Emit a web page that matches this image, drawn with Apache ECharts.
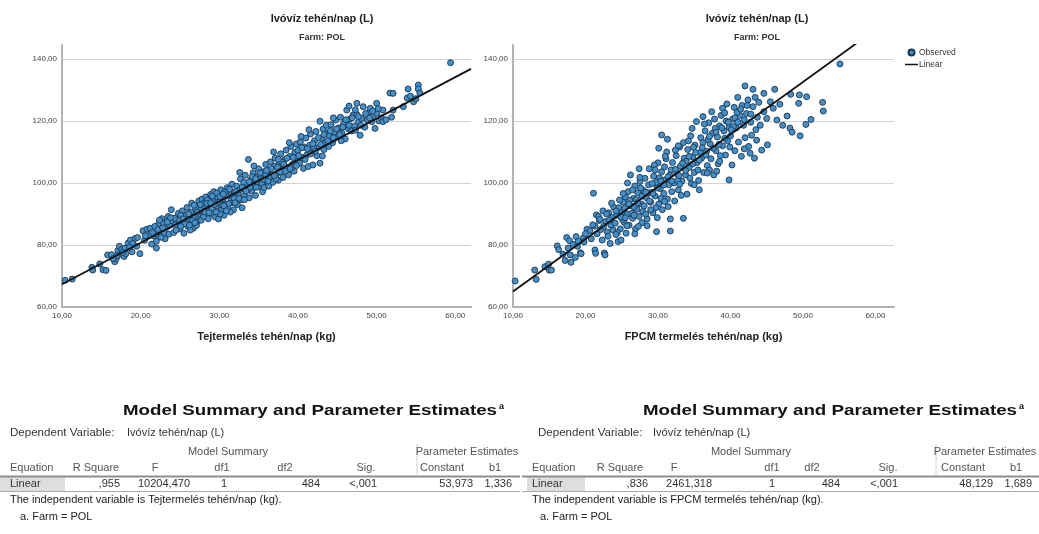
<!DOCTYPE html>
<html><head><meta charset="utf-8">
<script src="https://cdn.jsdelivr.net/npm/echarts@6/dist/echarts.min.js"></script>
<style>html,body{margin:0;padding:0;background:#fff}#c{width:1039px;height:534px}</style>
</head><body><div id="c"></div>
<script>
// ---------- DATA ----------
const chartTitle = 'Ivóvíz tehén/nap (L)';
const chartSubtitle = 'Farm: POL';
const xNameLeft = 'Tejtermelés tehén/nap (kg)';
const xNameRight = 'FPCM termelés tehén/nap (kg)';
const xTicks = [10, 20, 30, 40, 50, 60];
const yTicks = [60, 80, 100, 120, 140];
const legendNames = ['Observed', 'Linear'];

// Tejtermelés (kg) vs Ivóvíz (L)
const milkObserved = [
[10.4,68.6],[11.3,69.0],[13.8,72.8],[13.9,71.9],[14.8,73.9],[15.2,72.0],[15.6,71.8],[15.8,76.8],[16.3,76.9],
[16.7,74.6],[16.9,75.6],[17.1,78.2],[17.3,79.6],[17.4,77.0],[17.6,78.6],[17.9,76.3],[18.1,77.2],[18.4,80.6],[18.7,81.6],[18.9,77.8],[19.3,82.1],[19.6,82.4],[19.9,77.2],[18.0,79.0],[17.0,76.5],[19.0,80.5],
[20.3,84.6],[20.8,85.1],[21.2,85.4],[21.4,80.3],[21.7,82.9],[22.0,79.0],[22.1,83.5],[22.3,86.8],[22.5,84.2],[22.7,88.5],[22.9,87.0],[23.1,82.0],[23.3,85.7],[23.5,89.2],[23.7,86.3],[23.9,91.4],[20.5,81.5],[21.0,83.0],[22.0,81.2],[22.6,82.5],[23.0,84.0],[23.6,83.5],[24.0,87.8],[21.8,86.0],[22.4,88.0],
[24.2,84.0],[24.4,86.5],[24.6,88.8],[24.8,90.2],[25.0,85.2],[25.2,87.6],[25.3,91.0],[25.5,83.8],[25.7,89.5],[25.9,92.1],[26.0,86.0],[26.2,88.2],[26.4,90.6],[26.5,93.5],[26.7,85.4],[26.9,89.0],[27.0,91.8],[27.2,87.5],[27.4,94.2],[27.5,90.1],[27.7,88.0],[27.9,92.6],[24.5,84.8],[25.1,89.6],[25.8,87.2],[26.3,84.8],[26.8,92.8],[27.3,89.9],[27.8,94.8],[24.9,88.0],[25.6,86.8],[26.6,87.9],[27.1,86.3],[27.6,91.2],
[28.0,89.2],[28.1,93.6],[28.3,95.5],[28.4,91.0],[28.6,88.5],[28.8,92.8],[28.9,96.3],[29.0,90.2],[29.2,94.0],[29.3,97.2],[29.5,89.0],[29.6,92.5],[29.8,95.4],[29.9,88.4],[30.0,93.8],[30.2,97.8],[30.3,91.6],[30.5,95.0],[30.6,89.6],[30.8,93.2],[31.0,98.5],[31.1,92.0],[31.3,96.0],[31.5,94.4],[31.6,99.6],[31.8,91.3],[31.9,97.0],[28.5,94.5],[29.1,91.8],[29.7,96.8],[30.4,92.8],[30.9,95.9],[31.4,90.6],[31.7,93.6],[28.2,90.6],[29.4,93.1],[30.1,90.0],[30.7,97.0],[31.2,93.3],
[32.0,95.2],[32.2,99.0],[32.3,93.0],[32.5,97.6],[32.7,101.3],[32.8,94.6],[33.0,98.2],[33.2,96.0],[33.3,102.5],[33.5,99.6],[33.7,107.6],[33.8,95.2],[34.0,101.0],[34.1,97.4],[34.3,103.3],[34.5,99.8],[34.6,96.0],[34.8,102.0],[35.0,104.6],[35.1,98.8],[35.3,101.6],[35.5,97.2],[35.6,103.6],[35.8,100.5],[35.9,106.0],[32.4,96.2],[33.1,100.2],[33.6,97.8],[34.2,99.2],[34.9,100.4],[35.4,99.9],[32.9,92.0],[33.9,98.6],[34.4,105.5],[35.7,98.5],[32.6,103.4],
[36.0,101.4],[36.2,104.2],[36.3,99.0],[36.5,106.8],[36.7,102.6],[36.8,100.2],[37.0,105.4],[37.1,108.0],[37.3,103.0],[37.5,100.9],[37.6,106.2],[37.8,109.4],[38.0,104.4],[38.1,101.8],[38.3,107.5],[38.5,110.6],[38.6,105.0],[38.8,102.6],[39.0,108.6],[39.1,111.8],[39.3,106.0],[39.5,103.8],[39.6,109.9],[39.8,112.6],[39.9,107.0],[36.4,102.0],[37.2,101.3],[37.9,106.8],[38.4,103.8],[39.2,105.0],[39.7,108.2],[36.9,110.0],[38.9,113.0],
[40.0,110.5],[40.2,106.4],[40.3,113.2],[40.5,108.2],[40.7,104.7],[40.8,111.6],[41.0,114.5],[41.1,109.0],[41.3,105.3],[41.5,112.2],[41.6,115.8],[41.8,110.4],[41.9,105.8],[42.1,113.6],[42.3,116.6],[42.4,108.8],[42.6,111.5],[42.8,119.9],[42.8,106.4],[43.0,114.4],[43.2,117.4],[43.3,110.8],[43.5,113.0],[43.7,116.0],[43.9,111.8],[40.4,115.0],[41.4,117.2],[42.0,111.3],[43.1,108.7],[43.6,118.6],
[44.0,115.2],[44.2,118.8],[44.4,113.0],[44.6,116.4],[44.8,120.3],[45.0,114.8],[45.2,117.8],[45.4,121.2],[45.6,116.0],[45.8,119.2],[46.0,114.2],[46.2,123.5],[46.4,117.5],[46.6,120.6],[46.8,116.8],[47.0,121.9],[47.2,118.4],[47.5,125.7],[47.5,122.0],[47.7,119.6],[47.9,115.4],[44.5,121.0],[45.5,113.6],[46.5,124.8],[47.3,117.0],
[48.1,120.8],[48.3,124.6],[48.5,118.0],[48.8,120.3],[49.0,122.8],[49.2,124.1],[49.4,119.8],[49.6,121.8],[49.8,117.6],[50.0,125.7],[50.0,122.5],[50.3,120.0],[50.6,121.0],[50.8,123.5],[50.8,119.8],[51.2,120.4],[51.7,129.0],[51.9,121.2],[52.1,128.9],[52.1,123.5],
[53.4,124.6],[53.9,127.4],[54.0,130.3],[54.3,128.0],[54.7,126.2],[55.0,127.2],[55.3,131.6],[55.3,130.3],[55.5,129.0],[59.4,138.8],
[24.3,88.6],[25.4,88.4],[26.1,90.0],[26.9,87.2],[27.6,93.0],[28.4,93.4],[28.7,90.4],[29.1,95.8],[29.6,90.6],[30.1,95.6],[30.6,92.6],[30.9,91.0],[31.3,98.0],[31.9,95.0],[32.1,97.2],[32.5,95.0],[32.9,98.6],[33.4,97.4],[33.8,100.4],[34.2,102.0],[34.7,98.6],[35.2,103.2],[35.6,101.2],[35.9,102.6],[36.2,100.6],[36.6,104.6],[37.0,102.4],[37.4,105.0],[37.7,103.6],[38.2,106.0],[38.6,108.0],[39.0,104.6],[39.4,108.2],[39.8,105.6],[40.1,108.8],[40.5,111.4],[40.9,107.6],[41.2,111.0],[41.6,109.4],[41.9,112.6],[42.2,110.2],[42.6,114.6],[42.9,112.4],[43.3,115.6],[43.8,113.6],[44.1,116.8],[44.5,114.6],[44.9,117.4],[45.3,115.6],[45.7,118.0],[46.1,120.4],[46.5,118.6],[46.9,121.0],[47.3,123.6],[47.7,121.4],[48.0,118.6],[48.6,122.4],[49.1,121.0],[49.5,123.2],[50.2,124.0],[20.6,83.0],[21.5,84.0],[22.2,85.0],[22.8,85.5],[23.4,87.4],[23.8,88.8],[19.5,79.6],[18.6,79.2],[16.5,75.6],[17.7,77.6],[25.1,86.0],[26.2,86.4],[27.2,90.6],[28.9,93.6],[30.5,96.4],[32.0,93.6],[33.2,94.6],[34.6,101.4],[36.0,104.0],[37.5,107.6]
];

// FPCM termelés (kg) vs Ivóvíz (L)
const fpcmObserved = [
[10.3,68.4],[13.0,71.9],[13.2,68.9],[14.4,73.0],[14.9,73.8],[15.0,71.9],[15.3,71.9],[16.1,79.7],[16.3,78.5],[17.2,75.0],[17.4,82.4],[17.6,79.0],[17.8,81.4],[17.9,76.8],[18.0,74.4],[18.3,80.2],[18.7,82.7],[18.6,76.0],[19.3,77.5],[19.4,77.2],[19.7,82.2],[19.8,81.0],[16.9,77.0],[18.9,79.6],
[20.2,85.1],[20.6,84.6],[21.1,96.7],[21.3,86.1],[21.3,78.4],[21.4,77.3],[21.5,89.7],[21.6,83.6],[21.9,87.9],[22.1,85.0],[22.3,81.6],[22.6,77.4],[22.7,76.8],[22.8,87.6],[23.0,84.2],[23.2,90.4],[23.4,80.5],[23.5,86.4],[23.7,88.9],[23.9,92.2],[21.8,89.2],[22.4,91.0],[23.1,82.8],[23.8,84.8],[20.8,82.0],[22.0,88.3],[22.9,90.0],[23.6,93.5],
[24.1,87.0],[24.3,89.6],[24.5,81.1],[24.6,92.0],[24.8,85.2],[24.9,81.6],[25.0,90.6],[25.2,93.8],[25.3,87.4],[25.5,95.5],[25.6,83.8],[25.8,90.0],[25.9,97.2],[26.0,86.4],[26.2,102.6],[26.3,92.6],[26.5,88.6],[26.6,95.0],[26.8,99.0],[26.9,85.2],[27.1,91.5],[27.2,96.8],[27.4,89.2],[27.5,100.5],[27.7,93.2],[27.8,87.2],[28.0,97.6],[24.4,84.0],[24.7,94.5],[25.1,88.2],[25.4,91.8],[25.7,86.2],[26.1,94.4],[26.4,90.2],[26.7,92.3],[27.0,94.6],[27.3,86.0],[27.6,98.4],[27.9,90.8],[25.8,100.0],[26.5,97.8],
[28.1,92.6],[28.2,101.5],[28.4,95.2],[28.5,88.4],[28.7,99.4],[28.8,104.6],[29.0,93.8],[29.1,97.0],[29.3,90.4],[29.4,102.2],[29.6,95.8],[29.8,84.3],[29.8,100.2],[30.0,106.5],[30.1,93.2],[30.3,98.2],[30.5,115.5],[30.5,103.6],[30.6,91.4],[30.8,96.6],[31.0,101.0],[31.1,107.8],[31.3,114.1],[31.3,94.8],[31.5,99.4],[31.7,88.4],[31.7,84.5],[31.8,104.2],[31.9,97.2],[28.6,96.8],[29.2,99.8],[29.7,92.0],[30.2,101.6],[30.9,105.2],[31.4,92.4],[28.3,90.0],[29.5,105.8],[30.4,95.0],[31.2,110.0],[29.9,88.8],[31.6,102.5],
[32.0,106.6],[32.2,100.0],[32.3,94.2],[32.5,108.8],[32.6,103.0],[32.8,97.8],[33.0,111.6],[33.1,105.4],[33.3,100.6],[33.5,88.6],[33.5,113.0],[33.6,108.0],[33.8,102.6],[34.0,96.4],[34.1,110.8],[34.3,105.0],[34.5,115.2],[34.6,99.8],[34.8,108.4],[35.0,103.4],[35.1,112.2],[35.3,119.8],[35.4,106.6],[35.6,100.8],[35.8,109.8],[35.9,114.6],[32.4,110.6],[33.2,96.0],[33.9,107.0],[34.4,101.6],[34.9,111.5],[35.5,104.2],[32.7,100.8],[34.2,113.6],[35.7,97.8],
[36.0,108.0],[36.2,113.0],[36.3,103.4],[36.5,116.8],[36.7,110.2],[36.8,105.6],[37.0,119.4],[37.2,112.6],[37.3,107.8],[37.5,116.0],[37.7,102.6],[37.8,120.6],[38.0,110.4],[38.2,114.8],[38.3,106.2],[38.5,118.4],[38.7,121.8],[38.9,124.1],[38.9,112.0],[39.1,116.8],[39.3,109.0],[39.4,120.0],[39.6,113.6],[39.8,101.0],[39.8,118.0],[36.4,119.0],[37.1,104.2],[37.9,117.6],[38.6,108.8],[39.2,122.6],[39.9,111.6],[36.9,114.0],[38.1,103.8],[39.5,125.5],
[40.0,115.2],[40.2,105.8],[40.3,120.6],[40.5,124.4],[40.6,110.4],[40.8,117.8],[41.0,127.6],[41.1,113.2],[41.3,121.8],[41.5,108.6],[41.6,125.0],[41.8,118.6],[42.0,131.3],[42.0,114.6],[42.2,122.4],[42.4,126.8],[42.5,111.8],[42.7,109.6],[42.8,119.6],[43.1,130.2],[43.1,124.6],[43.3,108.0],[43.5,117.2],[43.7,121.2],[43.9,126.0],[40.9,122.8],[41.9,111.0],[42.9,115.4],[43.6,113.8],[40.4,118.2],
[44.1,118.6],[44.3,110.6],[44.6,128.9],[44.6,123.0],[45.0,120.8],[45.1,112.3],[45.5,126.2],[45.9,124.1],[46.1,130.2],[46.4,120.3],[46.8,125.4],[47.2,118.6],[47.8,121.6],[48.2,117.7],[48.3,128.6],[48.5,116.4],[49.4,125.7],[49.5,128.4],[49.6,115.2],[50.4,118.9],[50.5,127.8],[51.1,120.5],[52.7,126.0],[52.8,123.2],[55.1,138.4],
[24.2,91.0],[24.9,89.0],[25.5,88.8],[26.0,93.2],[26.7,89.6],[27.2,93.6],[27.8,95.8],[28.3,97.0],[28.8,94.2],[29.3,96.6],[29.9,98.4],[30.4,100.6],[30.8,99.4],[31.4,102.0],[31.9,100.6],[32.4,104.4],[32.9,102.4],[33.4,106.4],[33.8,104.0],[34.3,108.6],[34.8,106.2],[35.2,109.8],[35.7,107.4],[36.1,111.4],[36.6,109.0],[37.1,115.0],[37.6,111.2],[38.0,116.4],[38.4,112.4],[38.8,117.8],[39.2,114.4],[39.7,119.6],[40.1,117.2],[40.6,121.0],[41.0,119.6],[41.4,123.8],[41.9,120.4],[42.3,125.0],[42.8,122.2],[43.4,127.6],[22.5,86.0],[23.3,88.0],[21.0,86.5],[20.0,83.6],[19.0,81.2],[25.2,96.6],[27.5,101.8],[29.6,104.2],[31.0,108.6],[32.8,112.0],[34.7,117.6],[36.2,121.4],[37.4,123.0],[29.0,91.4],[30.9,94.0],[33.0,99.6],[35.0,99.4],[36.8,103.2],[38.5,107.0],[26.8,83.6],[28.5,86.2],[24.2,83.4],[27.4,104.6],[30.1,111.2]
];

// Table contents
const tableTitle = 'Model Summary and Parameter Estimates';
const dependentLabel = 'Dependent Variable:';
const dependentName = 'Ivóvíz tehén/nap (L)';
const groupHeaders = ['Model Summary', 'Parameter Estimates'];
const columnHeaders = ['Equation', 'R Square', 'F', 'df1', 'df2', 'Sig.', 'Constant', 'b1'];
const milkRow = ['Linear', ',955', '10204,470', '1', '484', '<,001', '53,973', '1,336'];
const fpcmRow = ['Linear', ',836', '2461,318', '1', '484', '<,001', '48,129', '1,689'];
const milkNote = 'The independent variable is Tejtermelés tehén/nap (kg).';
const fpcmNote = 'The independent variable is FPCM termelés tehén/nap (kg).';
const farmNote = 'a. Farm = POL';

// ---------- BUILD ----------
const FONT = '"Liberation Sans", Arial, Helvetica, sans-serif';
const num = s => parseFloat(s.replace(',', '.'));
const fmt = v => v.toFixed(2).replace('.', ',');

const X_MAX = [62.0, 62.55];
const Y_MAX = 144.5;

function fitLine(row, xmax) {
  const c = num(row[6]), b = num(row[7]);
  return [[xTicks[0], c + b * xTicks[0]], [xmax, c + b * xmax]];
}

function xAxis(i, name) {
  return {
    type: 'value', gridIndex: i, min: xTicks[0], max: X_MAX[i], interval: 10,
    name: name, nameLocation: 'middle', nameGap: 24,
    nameTextStyle: { fontFamily: FONT, fontSize: 11, fontWeight: 'bold', color: '#222' },
    axisLine: { show: true, onZero: false, lineStyle: { color: '#b3b3b3', width: 2 } },
    axisTick: { show: false },
    splitLine: { show: false },
    axisLabel: { fontFamily: FONT, fontSize: 8, color: '#444', margin: 5, showMaxLabel: false,
      formatter: v => (xTicks.indexOf(v) >= 0 ? fmt(v) : '') }
  };
}
function yAxis(i) {
  return {
    type: 'value', gridIndex: i, min: yTicks[0], max: Y_MAX, interval: 20,
    axisLine: { show: true, onZero: false, lineStyle: { color: '#b3b3b3', width: 2 } },
    axisTick: { show: false },
    splitLine: { show: true, showMinLine: false, showMaxLine: false, lineStyle: { color: '#d2d2d2', width: 1 } },
    axisLabel: { fontFamily: FONT, fontSize: 8, color: '#444', margin: 5, showMaxLabel: false,
      formatter: v => (yTicks.indexOf(v) >= 0 ? fmt(v) : '') }
  };
}
const scatterStyle = { color: '#4590c8', borderColor: '#1b3650', borderWidth: 0.9, opacity: 1 };

function titles(cx) {
  return [
    { text: chartTitle, left: cx, top: 13, textAlign: 'center', padding: 0,
      textStyle: { fontFamily: FONT, fontSize: 11, fontWeight: 'bold', color: '#222' } },
    { text: chartSubtitle, left: cx, top: 33, textAlign: 'center', padding: 0,
      textStyle: { fontFamily: FONT, fontSize: 9, fontWeight: 'bold', color: '#333' } }
  ];
}

// ---------- TABLE (graphic) ----------
const Y = { title: 411, dep: 433, grp: 452, hdr: 468, row: 484, note: 500, farm: 517 };
const tables = [
  { row: milkRow, note: milkNote, titleX: 310, supX: 499, depX: 10, depNameX: 127,
    grpX: [228, 467], hdrX: [10, 96, 155, 222, 285, 366, 442, 495],
    valX: [10, 120, 190, 227, 320, 377, 473, 512], cell: [0, 65], lineX: [0, 520], sepX: 417,
    noteX: 10, farmX: 20 },
  { row: fpcmRow, note: fpcmNote, titleX: 830, supX: 1019, depX: 538, depNameX: 653,
    grpX: [751, 985], hdrX: [532, 620, 674, 772, 812, 888, 963, 1016],
    valX: [532, 648, 712, 775, 840, 898, 993, 1032], cell: [527, 585], lineX: [522, 1039], sepX: 936,
    noteX: 532, farmX: 540 }
];
function txt(x, y, text, size, opts) {
  opts = opts || {};
  return { type: 'text', x: x, y: y, silent: true, scaleX: opts.sx || 1,
    style: { text: text, fill: opts.fill || '#333', align: opts.align || 'left', verticalAlign: 'middle',
      font: (opts.bold ? 'bold ' : '') + size + 'px ' + FONT } };
}
const graphics = [];
tables.forEach(t => {
  graphics.push({ type: 'rect', silent: true, shape: { x: t.cell[0], y: Y.row - 7, width: t.cell[1] - t.cell[0], height: 14 }, style: { fill: '#dedede' } });
  graphics.push({ type: 'line', silent: true, shape: { x1: t.lineX[0], y1: Y.row - 7.5, x2: t.lineX[1], y2: Y.row - 7.5 }, style: { stroke: '#8e8e8e', lineWidth: 2 } });
  graphics.push({ type: 'line', silent: true, shape: { x1: t.lineX[0], y1: Y.row + 7.5, x2: t.lineX[1], y2: Y.row + 7.5 }, style: { stroke: '#a9a9a9', lineWidth: 1 } });
  graphics.push({ type: 'line', silent: true, shape: { x1: t.sepX, y1: Y.grp - 8, x2: t.sepX, y2: Y.row - 8 }, style: { stroke: '#d0d0d0', lineWidth: 1 } });
  graphics.push(txt(t.titleX, Y.title, tableTitle, 15, { bold: true, align: 'center', fill: '#111', sx: 1.25 }));
  graphics.push(txt(t.supX, Y.title - 4, 'a', 9, { bold: true, fill: '#111' }));
  graphics.push(txt(t.depX, Y.dep, dependentLabel, 11, { fill: '#333', sx: 1.05 }));
  graphics.push(txt(t.depNameX, Y.dep, dependentName, 11, { fill: '#333' }));
  groupHeaders.forEach((g, i) => graphics.push(txt(t.grpX[i], Y.grp, g, 11, { align: 'center', fill: '#555' })));
  columnHeaders.forEach((h, i) => graphics.push(txt(t.hdrX[i], Y.hdr, h, 11, { align: i === 0 ? 'left' : 'center', fill: '#555' })));
  t.row.forEach((v, i) => graphics.push(txt(t.valX[i], Y.row, v, 11, { align: i === 0 ? 'left' : 'right', fill: '#333' })));
  graphics.push(txt(t.noteX, Y.note, t.note, 11, { fill: '#222' }));
  graphics.push(txt(t.farmX, Y.farm, farmNote, 11, { fill: '#222' }));
});

const option = {
  backgroundColor: '#fff',
  animation: false,
  title: titles(322).concat(titles(757)),
  legend: {
    data: [
      { name: legendNames[0], icon: 'circle' },
      { name: legendNames[1], icon: 'path://M0,0H26V3H0Z', itemStyle: { color: '#111' } }
    ],
    orient: 'vertical', left: 905, top: 48, itemWidth: 13, itemHeight: 6, itemGap: 3, padding: 0,
    selectedMode: false,
    textStyle: { fontFamily: FONT, fontSize: 8.5, color: '#333', padding: [0, 0, 0, -4] }
  },
  grid: [
    { left: 62, top: 45, width: 409, height: 262 },
    { left: 513, top: 45, width: 381, height: 262 }
  ],
  xAxis: [xAxis(0, xNameLeft), xAxis(1, xNameRight)],
  yAxis: [yAxis(0), yAxis(1)],
  series: [
    { name: legendNames[0], type: 'scatter', xAxisIndex: 0, yAxisIndex: 0, data: milkObserved, symbolSize: 6, itemStyle: scatterStyle },
    { name: legendNames[1], type: 'line', xAxisIndex: 0, yAxisIndex: 0, data: fitLine(milkRow, X_MAX[0]), symbol: 'none', clip: true, color: '#111', lineStyle: { color: '#111', width: 1.8 }, z: 3 },
    { name: legendNames[0], type: 'scatter', xAxisIndex: 1, yAxisIndex: 1, data: fpcmObserved, symbolSize: 6, itemStyle: scatterStyle },
    { name: legendNames[1], type: 'line', xAxisIndex: 1, yAxisIndex: 1, data: fitLine(fpcmRow, X_MAX[1]), symbol: 'none', clip: true, color: '#111', lineStyle: { color: '#111', width: 1.8 }, z: 3 }
  ],
  graphic: { elements: graphics }
};
const chart = echarts.init(document.getElementById('c'), null, { renderer: 'canvas' });
chart.setOption(option);
</script></body></html>
